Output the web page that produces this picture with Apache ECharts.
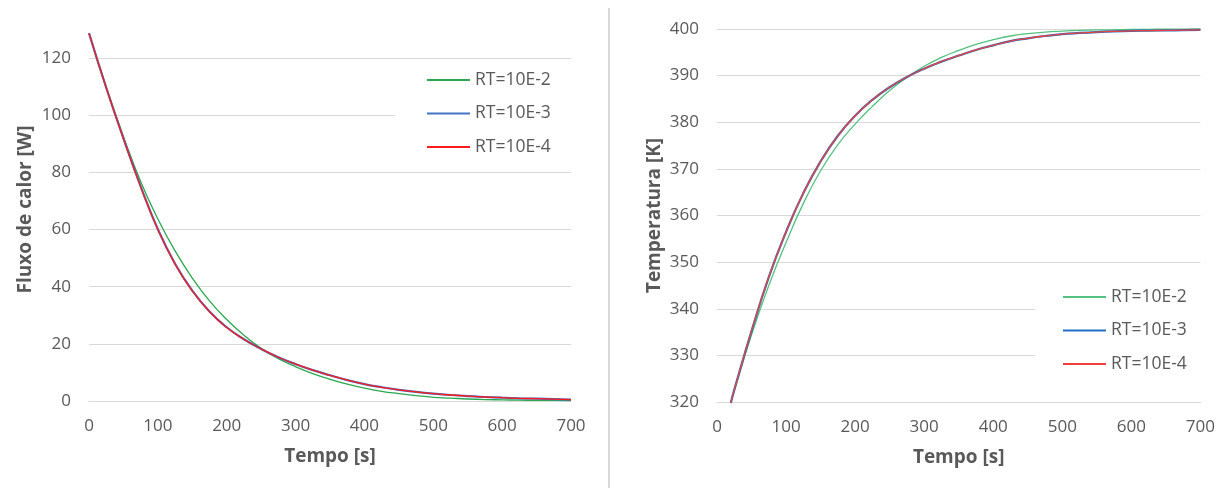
<!DOCTYPE html>
<html>
<head>
<meta charset="utf-8">
<script src="https://cdn.jsdelivr.net/npm/echarts@6/dist/echarts.min.js"></script>
<style>
  html, body { margin: 0; padding: 0; background: #ffffff; }
  #chart { width: 1218px; height: 488px; }
</style>
</head>
<body>
<div id="chart"></div>
<script>
// Heat flux through the wall [W] versus time [s]
const timeFlux = [0, 25, 50, 75, 100, 125, 150, 175, 200, 225, 250, 275, 300, 325, 350,
                  375, 400, 425, 450, 475, 500, 525, 550, 575, 600, 625, 650, 675, 700];
const fluxRT2 = [128.7, 109.9, 92.5, 76.8, 63.7, 52.5, 43.0, 35.0, 28.5, 23.0, 18.4, 14.8, 12.0, 9.6, 7.6,
                 5.9, 4.5, 3.4, 2.6, 1.9, 1.3, 1.0, 0.7, 0.5, 0.4, 0.3, 0.25, 0.2, 0.15];
const fluxRT3 = [128.7, 109.6, 91.9, 75.1, 60.1, 48.0, 38.6, 31.3, 25.8, 21.6, 18.2, 15.3, 12.9, 10.8, 9.0,
                 7.3, 5.9, 4.8, 3.9, 3.2, 2.6, 2.1, 1.7, 1.4, 1.15, 0.95, 0.8, 0.65, 0.5];
const fluxRT4 = [128.7, 109.6, 91.8, 75.0, 60.0, 47.9, 38.5, 31.2, 25.7, 21.6, 18.2, 15.3, 12.9, 10.8, 9.0,
                 7.3, 5.9, 4.8, 3.9, 3.2, 2.6, 2.1, 1.7, 1.4, 1.15, 0.95, 0.8, 0.65, 0.5];

// Wall temperature [K] versus time [s]
const timeTemp = [20, 25, 50, 75, 100, 125, 150, 175, 200, 225, 250, 275, 300, 325, 350,
                  375, 400, 425, 450, 475, 500, 525, 550, 575, 600, 625, 650, 675, 700];
const tempRT2 = [319.8, 322.4, 334.4, 345.0, 354.2, 362.6, 369.6, 375.2, 379.6, 383.4, 386.8, 389.6, 392.0, 393.9, 395.4,
                 396.7, 397.7, 398.5, 399.0, 399.35, 399.55, 399.7, 399.8, 399.85, 399.9, 399.93, 399.96, 399.98, 400.0];
const tempRT3 = [319.8, 322.6, 335.2, 346.8, 356.5, 364.8, 371.6, 377.1, 381.4, 384.8, 387.5, 389.7, 391.5, 393.0, 394.3,
                 395.5, 396.5, 397.4, 398.0, 398.5, 398.9, 399.15, 399.35, 399.5, 399.6, 399.65, 399.7, 399.75, 399.8];
const tempRT4 = [319.8, 322.6, 335.3, 346.8, 356.5, 364.8, 371.6, 377.1, 381.4, 384.8, 387.5, 389.7, 391.5, 393.0, 394.3,
                 395.5, 396.5, 397.4, 398.0, 398.5, 398.9, 399.15, 399.35, 399.5, 399.6, 399.65, 399.7, 399.75, 399.8];

const seriesNames = ['RT=10E-2', 'RT=10E-3', 'RT=10E-4'];
const xTicks = { min: 0, max: 700, interval: 100 };

const pair = (xs, ys) => xs.map((x, i) => [x, ys[i]]);

const FONT = 'Open Sans';
const TEXT = '#595959';
const GRID_LINE = '#d9d9d9';

function xAxisFor(gridIndex) {
  return {
    type: 'value', gridIndex,
    min: xTicks.min, max: xTicks.max, interval: xTicks.interval,
    name: 'Tempo [s]', nameLocation: 'middle', nameGap: 46,
    nameTextStyle: { fontFamily: FONT, fontSize: 19, fontWeight: 'bold', color: TEXT },
    axisLine: { show: true, lineStyle: { color: GRID_LINE, width: 1 } },
    axisTick: { show: false },
    splitLine: { show: false },
    axisLabel: { fontFamily: FONT, fontSize: 17, color: TEXT, margin: 17 }
  };
}

function yAxisFor(gridIndex, name, min, max, interval, nameGap, shiftUp) {
  return {
    type: 'value', gridIndex, min, max, interval,
    name, nameLocation: 'middle', nameGap,
    nameTextStyle: {
      fontFamily: FONT, fontSize: 19, fontWeight: 'bold', color: TEXT,
      padding: [0, 0, 0, shiftUp * 2]
    },
    axisLine: { show: false },
    axisTick: { show: false },
    splitLine: { show: true, lineStyle: { color: GRID_LINE, width: 1 } },
    axisLabel: { fontFamily: FONT, fontSize: 17, color: TEXT, margin: 18 }
  };
}

function lineSeries(name, data, axisIndex, color, width, z) {
  return {
    name, type: 'line', data,
    xAxisIndex: axisIndex, yAxisIndex: axisIndex,
    smooth: true, symbol: 'none', clip: false, z,
    lineStyle: { color, width },
    itemStyle: { color }
  };
}

function legendAt(left, top, padding, names) {
  return {
    orient: 'vertical', left, top, padding,
    backgroundColor: '#ffffff',
    itemWidth: 43, itemHeight: 14, itemGap: 13.5,
    itemStyle: { opacity: 0 },
    data: names.map(n => ({ name: n })),
    textStyle: { fontFamily: FONT, fontSize: 17.5, color: TEXT, lineHeight: 20 }
  };
}

const chart = echarts.init(document.getElementById('chart'), null, { renderer: 'canvas' });

const leftColors = ['#2aa84f', '#4472c4', '#ff1a1a'];
const rightColors = ['#52c17f', '#1f6fc2', '#f0403c'];
const rightNames = seriesNames.map(n => n + ' ');

chart.setOption({
  animation: false,
  backgroundColor: '#ffffff',
  grid: [
    { left: 89, right: 647, top: 58, bottom: 87 },
    { left: 717, right: 15, top: 29, bottom: 86 }
  ],
  xAxis: [xAxisFor(0), xAxisFor(1)],
  yAxis: [
    yAxisFor(0, 'Fluxo de calor [W]', 0, 120, 20, 54, 20),
    yAxisFor(1, 'Temperatura [K]', 320, 400, 10, 53, 0)
  ],
  legend: [
    legendAt(395, 60, [10, 25, 10, 31], seriesNames),
    legendAt(1035, 277, [10, 15, 10, 27], rightNames)
  ],
  series: [
    lineSeries(seriesNames[0], pair(timeFlux, fluxRT2), 0, leftColors[0], 1.3, 2),
    lineSeries(seriesNames[1], pair(timeFlux, fluxRT3), 0, leftColors[1], 2.2, 3),
    lineSeries(seriesNames[2], pair(timeFlux, fluxRT4), 0, leftColors[2], 1.3, 4),
    lineSeries(rightNames[0], pair(timeTemp, tempRT2), 1, rightColors[0], 1.3, 2),
    lineSeries(rightNames[1], pair(timeTemp, tempRT3), 1, rightColors[1], 2.2, 3),
    lineSeries(rightNames[2], pair(timeTemp, tempRT4), 1, rightColors[2], 1.3, 4)
  ],
  graphic: [
    {
      type: 'line', z: 10,
      shape: { x1: 609, y1: 8, x2: 609, y2: 488 },
      style: { stroke: '#d9d9d9', lineWidth: 2 }
    }
  ]
});
</script>
</body>
</html>
